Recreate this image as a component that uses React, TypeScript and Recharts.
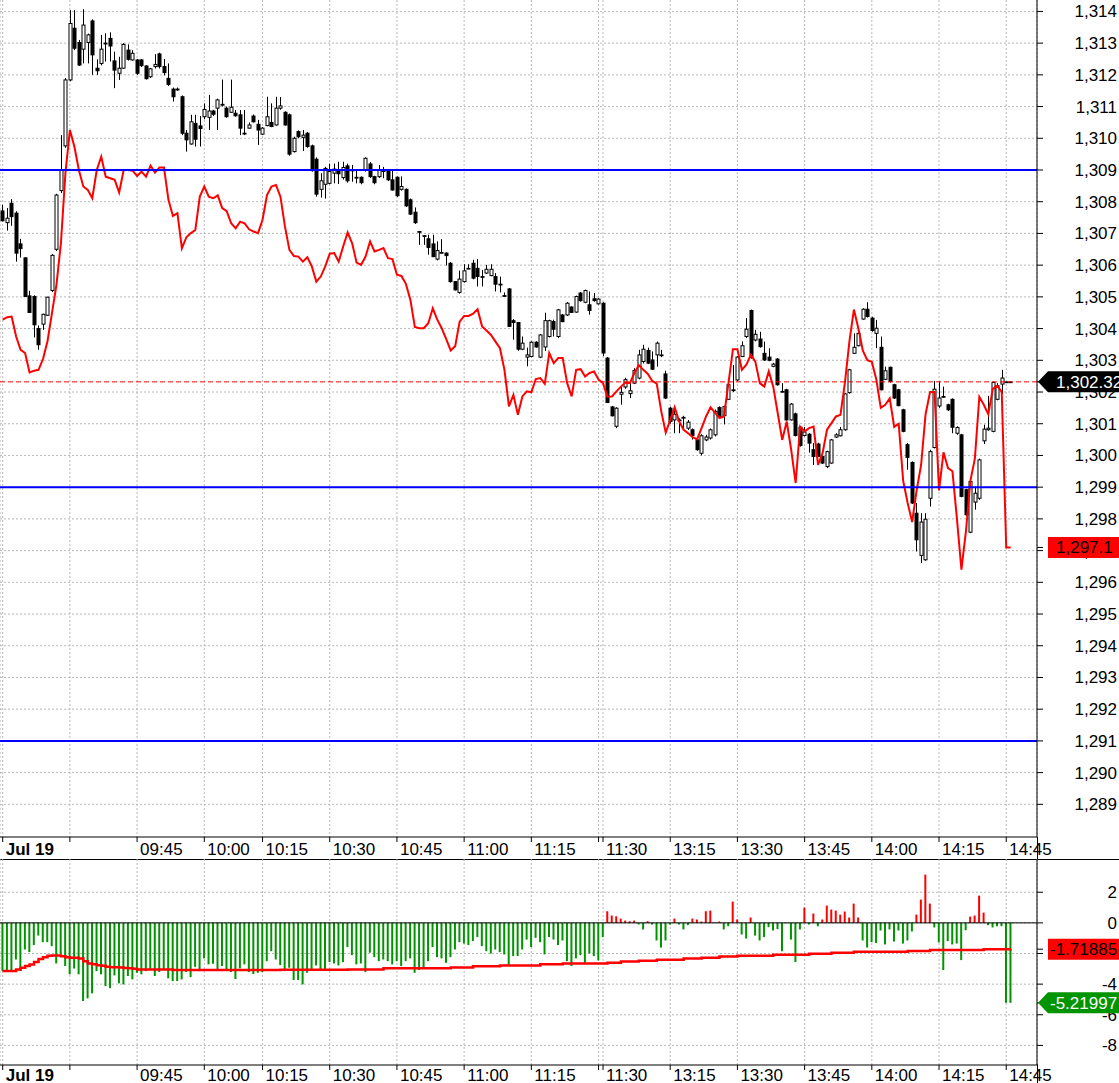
import React from 'react';
import {
  ComposedChart,
  Bar,
  Line,
  Cell,
  XAxis,
  YAxis,
  CartesianGrid,
  ReferenceLine,
} from 'recharts';

const FONT = 'Arial, "Liberation Sans", Helvetica, sans-serif';

// one-minute bars, index 0 = first bar of the session
const opens = [
  1307.71, 1307.34, 1307.95, 1307.64, 1306.67, 1306.23, 1305.03, 1305.01, 1304.0, 1304.14,
  1304.42, 1305.2, 1306.5, 1308.35, 1309.76, 1311.84, 1313.47, 1313.02, 1312.81, 1313.02,
  1313.7, 1312.21, 1312.36, 1313.0, 1313.15, 1312.44, 1312.05, 1312.21, 1312.78, 1312.47,
  1312.47, 1312.47, 1312.28, 1311.94, 1312.26, 1312.66, 1312.26, 1311.89, 1311.55, 1311.55,
  1311.31, 1310.16, 1309.82, 1310.47, 1310.39, 1310.68, 1310.66, 1310.86, 1310.95, 1311.07,
  1310.95, 1310.82, 1310.79, 1310.74, 1310.16, 1310.32, 1310.7, 1310.44, 1310.13, 1310.4,
  1310.5, 1310.42, 1310.95, 1310.82, 1310.74, 1309.58, 1310.21, 1310.03, 1310.16, 1309.76,
  1309.34, 1308.39, 1308.55, 1308.58, 1308.9, 1308.95, 1308.76, 1309.13, 1309.0, 1308.77,
  1308.77, 1309.0, 1309.19, 1308.79, 1308.79, 1308.98, 1308.98, 1308.69, 1308.77, 1308.39,
  1308.39, 1308.06, 1307.67, 1307.06, 1306.93, 1306.83, 1306.67, 1306.19, 1306.4, 1306.38,
  1306.06, 1305.48, 1305.14, 1305.48, 1305.9, 1306.06, 1305.9, 1305.64, 1305.75, 1305.67,
  1305.64, 1305.4, 1305.04, 1305.25, 1304.25, 1304.19, 1303.35, 1303.1, 1303.12, 1303.57,
  1303.1, 1303.42, 1303.75, 1304.22, 1303.75, 1304.43, 1304.43, 1304.68, 1304.52, 1305.12,
  1304.83, 1304.75, 1304.94, 1304.78, 1304.8, 1303.07, 1301.53, 1300.92, 1301.93, 1302.16,
  1301.95, 1302.28, 1302.44, 1302.96, 1303.31, 1303.01, 1303.17, 1303.17, 1302.57, 1301.49,
  1301.12, 1301.12, 1301.2, 1300.86, 1300.81, 1300.49, 1300.07, 1300.49, 1300.55, 1300.65,
  1301.51, 1301.26, 1301.77, 1302.07, 1302.38, 1303.12, 1303.75, 1304.57, 1303.64, 1303.67,
  1303.22, 1303.1, 1302.81, 1303.04, 1302.02, 1302.07, 1301.12, 1301.31, 1300.89, 1300.63,
  1300.67, 1300.18, 1300.36, 1299.97, 1299.65, 1299.76, 1300.58, 1300.62, 1300.81, 1301.98,
  1303.22, 1303.46, 1304.3, 1304.61, 1304.33, 1303.85, 1303.41, 1302.4, 1302.78, 1302.23,
  1302.07, 1301.44, 1300.34, 1299.78, 1298.18, 1296.85, 1296.71, 1298.65, 1300.25, 1301.56,
  1301.86, 1301.6, 1301.77, 1300.7, 1300.65, 1298.92, 1297.58, 1298.53, 1298.65, 1300.46,
  1300.81, 1300.76, 1301.77, 1302.25, 1302.32, 1302.32,
];

const highs = [
  1307.9, 1307.8, 1308.08, 1307.7, 1306.83, 1306.25, 1305.19, 1305.05, 1304.1, 1304.47,
  1305.0, 1306.35, 1308.25, 1310.1, 1311.9, 1314.04, 1314.04, 1313.1, 1314.07, 1313.3,
  1313.75, 1312.49, 1313.26, 1313.31, 1313.34, 1312.73, 1312.57, 1313.0, 1312.96, 1312.78,
  1312.5, 1312.5, 1312.3, 1312.22, 1312.65, 1312.7, 1312.5, 1312.36, 1311.6, 1311.6,
  1311.35, 1310.26, 1310.74, 1310.74, 1310.7, 1311.1, 1311.37, 1310.9, 1311.25, 1311.85,
  1311.0, 1311.85, 1310.89, 1310.89, 1310.89, 1310.5, 1310.75, 1310.58, 1310.35, 1311.31,
  1311.1, 1311.31, 1311.3, 1310.85, 1310.78, 1310.05, 1310.25, 1310.26, 1310.2, 1309.8,
  1309.4, 1308.9, 1309.1, 1309.2, 1309.2, 1309.26, 1309.26, 1309.2, 1309.16, 1309.0,
  1308.8, 1309.4, 1309.25, 1308.82, 1309.16, 1309.1, 1309.0, 1309.0, 1308.8, 1308.8,
  1308.42, 1308.1, 1307.82, 1307.08, 1306.95, 1306.96, 1306.96, 1306.75, 1306.82, 1306.4,
  1306.1, 1305.5, 1305.83, 1306.03, 1306.03, 1306.17, 1306.19, 1305.85, 1306.01, 1306.03,
  1305.75, 1305.64, 1305.14, 1305.28, 1304.3, 1304.2, 1303.75, 1303.4, 1303.6, 1303.6,
  1303.83, 1304.5, 1304.28, 1304.28, 1304.62, 1304.46, 1304.84, 1304.7, 1305.04, 1305.15,
  1305.23, 1305.17, 1305.12, 1304.96, 1304.83, 1303.1, 1301.56, 1301.52, 1302.17, 1302.45,
  1302.3, 1302.75, 1303.33, 1303.49, 1303.4, 1303.28, 1303.59, 1303.33, 1302.67, 1301.54,
  1301.44, 1301.17, 1301.25, 1301.12, 1300.85, 1300.52, 1300.67, 1300.65, 1300.85, 1301.45,
  1301.55, 1301.57, 1302.27, 1302.85, 1303.13, 1303.6, 1304.33, 1304.6, 1303.96, 1303.9,
  1303.59, 1303.38, 1302.92, 1303.07, 1302.28, 1302.1, 1301.65, 1301.35, 1300.92, 1300.9,
  1300.7, 1300.39, 1300.4, 1300.0, 1300.15, 1300.52, 1300.7, 1300.9, 1301.97, 1302.73,
  1303.85, 1303.88, 1304.64, 1304.83, 1304.37, 1304.27, 1303.75, 1302.8, 1302.8, 1302.26,
  1302.1, 1301.47, 1300.39, 1299.81, 1298.5, 1298.18, 1298.18, 1300.18, 1302.35, 1302.33,
  1302.17, 1301.63, 1301.8, 1300.92, 1300.68, 1298.95, 1299.21, 1299.02, 1299.9, 1300.97,
  1301.88, 1302.33, 1302.28, 1302.7, 1302.33, 1302.33,
];

const lows = [
  1307.38, 1307.09, 1307.24, 1306.11, 1306.24, 1305.0, 1304.5, 1303.72, 1303.33, 1303.96,
  1304.4, 1305.15, 1306.45, 1308.27, 1309.7, 1311.8, 1312.78, 1312.28, 1312.36, 1312.36,
  1312.0, 1312.0, 1312.3, 1312.42, 1312.42, 1311.58, 1311.84, 1312.2, 1312.45, 1312.45,
  1312.0, 1312.25, 1311.85, 1311.9, 1312.2, 1312.2, 1311.98, 1311.65, 1311.16, 1311.5,
  1310.1, 1309.58, 1309.8, 1309.74, 1309.74, 1310.6, 1310.26, 1310.7, 1310.26, 1311.0,
  1310.65, 1310.8, 1310.68, 1310.1, 1310.1, 1310.3, 1310.5, 1309.79, 1310.1, 1310.38,
  1310.35, 1310.4, 1310.9, 1310.4, 1309.45, 1309.55, 1310.0, 1309.6, 1309.7, 1308.95,
  1308.16, 1308.13, 1308.1, 1308.55, 1308.58, 1308.56, 1308.7, 1308.6, 1308.63, 1308.58,
  1308.55, 1308.95, 1308.75, 1308.55, 1308.75, 1308.74, 1308.65, 1308.35, 1308.15, 1308.35,
  1307.83, 1307.58, 1307.3, 1306.64, 1306.64, 1306.33, 1306.25, 1306.15, 1306.38, 1305.99,
  1305.45, 1305.2, 1305.1, 1305.45, 1305.88, 1305.55, 1305.33, 1305.33, 1305.72, 1305.65,
  1305.17, 1305.14, 1305.0, 1304.05, 1303.65, 1303.3, 1303.32, 1302.81, 1303.1, 1303.4,
  1303.07, 1303.3, 1303.72, 1303.75, 1303.7, 1304.2, 1304.4, 1304.49, 1304.5, 1304.85,
  1304.8, 1304.44, 1304.85, 1304.76, 1303.13, 1301.65, 1301.23, 1300.86, 1301.6, 1302.1,
  1301.81, 1302.25, 1302.4, 1302.9, 1302.88, 1302.7, 1302.8, 1303.1, 1301.78, 1301.0,
  1300.7, 1300.7, 1300.8, 1300.8, 1300.5, 1300.15, 1300.0, 1300.45, 1300.5, 1300.6,
  1301.2, 1300.98, 1301.75, 1302.0, 1302.35, 1303.1, 1303.7, 1303.05, 1303.6, 1303.4,
  1302.98, 1302.97, 1302.78, 1302.2, 1301.98, 1301.1, 1301.1, 1300.6, 1300.28, 1300.6,
  1300.09, 1299.7, 1299.95, 1299.73, 1299.6, 1299.74, 1300.55, 1300.6, 1300.78, 1301.95,
  1303.2, 1303.44, 1304.28, 1304.35, 1303.9, 1303.38, 1302.05, 1302.38, 1302.3, 1301.78,
  1301.55, 1300.73, 1299.55, 1298.47, 1296.97, 1296.61, 1296.68, 1298.39, 1300.22, 1301.5,
  1301.82, 1301.4, 1300.7, 1300.65, 1298.68, 1298.1, 1297.55, 1298.29, 1298.6, 1300.36,
  1300.78, 1300.73, 1301.74, 1301.94, 1302.31, 1302.31,
];

const closes = [
  1307.4, 1307.48, 1307.53, 1306.38, 1306.52, 1305.01, 1304.51, 1304.12, 1303.49, 1304.45,
  1304.99, 1306.31, 1308.21, 1309.0, 1311.84, 1313.62, 1312.84, 1312.31, 1313.57, 1313.26,
  1312.63, 1312.13, 1312.81, 1313.0, 1312.91, 1312.15, 1312.21, 1312.96, 1312.49, 1312.68,
  1312.05, 1312.29, 1311.88, 1312.19, 1312.33, 1312.26, 1312.07, 1311.7, 1311.31, 1311.55,
  1310.16, 1309.95, 1310.52, 1309.97, 1310.31, 1310.91, 1310.86, 1310.76, 1311.21, 1311.07,
  1310.68, 1310.98, 1310.71, 1310.32, 1310.16, 1310.42, 1310.52, 1310.26, 1310.32, 1310.68,
  1310.37, 1310.95, 1311.02, 1310.42, 1309.5, 1310.0, 1310.05, 1310.1, 1309.74, 1308.98,
  1308.24, 1308.66, 1309.05, 1308.95, 1309.03, 1308.88, 1309.08, 1308.66, 1309.0, 1308.77,
  1308.6, 1309.37, 1308.79, 1308.6, 1309.0, 1308.98, 1308.69, 1308.37, 1308.19, 1308.48,
  1307.87, 1307.61, 1307.34, 1307.06, 1306.93, 1306.56, 1306.27, 1306.46, 1306.4, 1306.3,
  1305.48, 1305.22, 1305.56, 1305.82, 1305.9, 1305.59, 1305.64, 1305.64, 1305.87, 1305.87,
  1305.4, 1305.4, 1305.04, 1304.07, 1304.19, 1303.35, 1303.54, 1303.17, 1303.57, 1303.42,
  1303.8, 1304.25, 1304.25, 1303.98, 1304.59, 1304.22, 1304.8, 1304.51, 1305.01, 1304.88,
  1305.2, 1304.57, 1304.88, 1304.93, 1303.23, 1301.67, 1301.25, 1301.49, 1301.99, 1302.39,
  1302.04, 1302.68, 1303.17, 1303.35, 1302.91, 1302.72, 1303.54, 1303.17, 1301.81, 1301.07,
  1301.3, 1301.12, 1301.2, 1301.05, 1300.63, 1300.18, 1300.62, 1300.58, 1300.81, 1301.39,
  1301.23, 1301.54, 1302.23, 1302.07, 1303.1, 1303.46, 1303.98, 1303.1, 1303.82, 1303.43,
  1303.01, 1303.0, 1302.88, 1302.23, 1302.02, 1301.12, 1301.62, 1300.63, 1300.31, 1300.74,
  1300.39, 1299.97, 1299.97, 1299.76, 1300.12, 1300.49, 1300.65, 1300.81, 1301.94, 1302.7,
  1303.41, 1303.85, 1304.61, 1304.38, 1303.94, 1304.01, 1302.07, 1302.67, 1302.33, 1301.81,
  1301.57, 1300.76, 1299.94, 1298.5, 1297.34, 1297.9, 1297.99, 1300.12, 1302.09, 1301.81,
  1301.86, 1301.44, 1300.89, 1300.88, 1298.71, 1298.13, 1299.18, 1298.81, 1299.86, 1300.83,
  1300.86, 1302.3, 1302.2, 1302.44, 1302.32, 1302.32,
];

// red comparison line in the price panel
const refLine = [
  1304.28, 1304.36, 1304.38, 1303.75, 1303.33, 1303.23, 1302.62, 1302.67, 1302.7, 1303.04,
  1303.6, 1304.49, 1305.38, 1306.7, 1308.9, 1310.26, 1309.74, 1309.0, 1308.48, 1308.37,
  1308.11, 1309.0, 1309.42, 1308.79, 1308.74, 1308.69, 1308.29, 1309.0, 1309.0, 1308.98,
  1308.81, 1308.95, 1308.79, 1309.14, 1308.92, 1309.08, 1309.08, 1308.06, 1307.55, 1307.64,
  1306.53, 1306.88, 1307.01, 1307.11, 1308.16, 1308.48, 1308.16, 1308.11, 1308.2, 1307.8,
  1307.7, 1307.32, 1307.16, 1307.37, 1307.32, 1307.13, 1307.06, 1307.01, 1307.43, 1308.21,
  1308.48, 1308.53, 1308.16, 1307.22, 1306.48, 1306.29, 1306.27, 1306.11, 1306.25, 1305.96,
  1305.48, 1305.64, 1305.96, 1306.36, 1306.38, 1306.11, 1306.59, 1307.03, 1306.69, 1306.08,
  1306.01, 1306.27, 1306.75, 1306.43, 1306.48, 1306.54, 1306.22, 1306.19, 1305.7, 1305.66,
  1305.41, 1304.91, 1304.05, 1304.01, 1304.01, 1304.17, 1304.64, 1304.28, 1304.01, 1303.67,
  1303.31, 1303.44, 1304.22, 1304.4, 1304.4, 1304.47, 1304.61, 1304.07, 1303.94, 1303.8,
  1303.59, 1303.38, 1302.7, 1301.55, 1301.91, 1301.28, 1301.86, 1302.02, 1301.99, 1302.41,
  1302.44, 1302.26, 1303.23, 1302.91, 1303.07, 1303.07, 1302.28, 1301.86, 1302.7, 1302.72,
  1302.49, 1302.6, 1302.65, 1302.39, 1302.28, 1301.85, 1301.86, 1302.02, 1302.17, 1302.3,
  1302.28, 1302.6, 1302.85, 1302.7, 1302.57, 1302.35, 1302.26, 1301.39, 1300.72, 1301.12,
  1301.52, 1301.07, 1300.81, 1300.7, 1300.58, 1300.51, 1300.86, 1301.23, 1301.52, 1301.35,
  1301.18, 1301.23, 1302.28, 1303.35, 1303.35, 1302.7, 1302.86, 1303.17, 1302.96, 1302.28,
  1302.17, 1302.65, 1302.17, 1301.33, 1300.49, 1301.07, 1300.18, 1299.13, 1300.91, 1300.76,
  1300.86, 1300.91, 1299.7, 1300.07, 1300.81, 1301.02, 1301.23, 1301.28, 1302.3, 1303.6,
  1304.6, 1304.0, 1303.3, 1303.0, 1302.95, 1302.4, 1301.5, 1301.6, 1301.8, 1300.9,
  1301.0, 1299.2, 1298.5, 1297.9, 1298.9, 1299.7, 1301.3, 1302.0, 1302.0, 1298.9,
  1300.1, 1299.6, 1299.5, 1298.0, 1296.4, 1297.6, 1299.2, 1299.9, 1301.85, 1301.6,
  1301.3, 1302.1, 1302.2, 1302.0, 1297.1, 1297.1,
];

// lower panel: histogram and its red average
const hist = [
  -3.15, -3.08, -3.15, -2.39, -3.15, -1.74, -1.91, -1.45, -0.83, -1.26,
  -1.26, -1.52, -2.65, -2.06, -2.82, -3.36, -2.98, -3.36, -5.1, -4.93,
  -4.6, -3.15, -3.36, -4.13, -4.26, -3.43, -3.95, -4.02, -3.47, -3.69,
  -3.26, -3.36, -3.15, -3.0, -3.47, -3.21, -3.04, -3.62, -3.8, -3.8,
  -3.69, -3.21, -3.54, -2.87, -3.15, -2.32, -2.71, -2.67, -3.04, -2.82,
  -3.04, -3.21, -3.67, -2.97, -2.71, -3.21, -3.34, -3.26, -3.21, -2.5,
  -1.85, -2.39, -2.76, -3.15, -2.93, -3.73, -3.73, -4.02, -3.26, -3.04,
  -2.78, -3.04, -3.08, -2.56, -2.65, -2.78, -2.56, -1.58, -2.11, -2.71,
  -2.65, -3.21, -1.95, -2.24, -2.5, -2.39, -2.5, -2.71, -2.5, -2.82,
  -2.5, -2.32, -3.26, -3.08, -2.97, -2.5, -1.58, -2.24, -2.32, -2.61,
  -2.24, -1.74, -1.26, -1.35, -1.45, -1.19, -0.93, -1.52, -1.85, -2.0,
  -1.74, -1.91, -2.06, -2.76, -2.17, -2.17, -1.74, -1.09, -1.58, -0.98,
  -1.26, -2.06, -0.93, -1.09, -1.45, -1.15, -2.5, -2.82, -2.32, -2.11,
  -2.67, -2.0, -2.17, -2.45, -0.93, 0.76, 0.48, 0.43, 0.28, 0.15,
  0.11, 0.15, -0.11, -0.43, 0.11, -0.11, -1.15, -1.61, -1.15, -0.11,
  0.28, -0.11, -0.43, -0.15, 0.28, 0.22, 0.09, 0.76, 0.8, 0.03,
  0.09, -0.43, -0.22, 1.39, 0.22, -0.76, -1.02, 0.35, -0.83, -1.15,
  -0.93, -0.28, -0.5, -0.41, -1.85, -0.02, -1.09, -2.56, -0.43, 1.0,
  -0.11, 0.61, -0.22, 0.22, 1.13, 0.87, 0.8, 0.54, 0.74, 0.35,
  1.26, 0.35, -1.15, -1.61, -1.26, -1.32, -0.5, -1.41, -0.43, -1.22,
  -0.5, -1.35, -1.15, -0.56, 0.54, 1.52, 3.15, 1.26, -0.3, -1.28,
  -3.08, -1.19, -1.41, -1.35, -2.43, -0.48, 0.41, 0.48, 1.78, 0.67,
  -0.15, -0.3, -0.22, -0.22, -5.22, -5.21997,
];

const histAvg = [
  -3.15, -3.15, -3.15, -3.04, -2.93, -2.82, -2.72, -2.56, -2.36, -2.25,
  -2.15, -2.13, -2.13, -2.18, -2.25, -2.28, -2.28, -2.32, -2.5, -2.65,
  -2.71, -2.76, -2.8, -2.86, -2.89, -2.89, -2.92, -2.94, -2.97, -3.0,
  -3.04, -3.04, -3.04, -3.04, -3.04, -3.04, -3.04, -3.04, -3.08, -3.08,
  -3.08, -3.08, -3.08, -3.08, -3.08, -3.08, -3.08, -3.08, -3.08, -3.08,
  -3.08, -3.08, -3.08, -3.08, -3.08, -3.08, -3.08, -3.08, -3.08, -3.08,
  -3.08, -3.08, -3.06, -3.06, -3.06, -3.06, -3.06, -3.06, -3.06, -3.06,
  -3.06, -3.06, -3.06, -3.06, -3.06, -3.06, -3.06, -3.04, -3.04, -3.04,
  -3.04, -3.04, -3.04, -3.04, -3.04, -2.97, -2.97, -2.97, -2.97, -2.97,
  -2.97, -2.97, -2.97, -2.97, -2.97, -2.97, -2.97, -2.97, -2.97, -2.97,
  -2.91, -2.91, -2.91, -2.91, -2.91, -2.84, -2.84, -2.84, -2.84, -2.84,
  -2.84, -2.78, -2.78, -2.78, -2.78, -2.78, -2.78, -2.78, -2.78, -2.78,
  -2.71, -2.71, -2.71, -2.71, -2.71, -2.65, -2.65, -2.65, -2.65, -2.65,
  -2.65, -2.65, -2.65, -2.65, -2.65, -2.6, -2.6, -2.6, -2.53, -2.53,
  -2.53, -2.53, -2.47, -2.47, -2.47, -2.47, -2.4, -2.4, -2.4, -2.4,
  -2.4, -2.4, -2.32, -2.32, -2.32, -2.32, -2.27, -2.27, -2.27, -2.27,
  -2.2, -2.2, -2.2, -2.2, -2.14, -2.14, -2.14, -2.14, -2.14, -2.14,
  -2.14, -2.14, -2.08, -2.08, -2.08, -2.08, -2.08, -2.08, -2.08, -2.08,
  -2.01, -2.01, -2.01, -2.01, -2.01, -1.95, -1.95, -1.95, -1.95, -1.95,
  -1.89, -1.89, -1.89, -1.89, -1.89, -1.89, -1.89, -1.89, -1.89, -1.89,
  -1.89, -1.89, -1.83, -1.83, -1.83, -1.83, -1.83, -1.77, -1.77, -1.77,
  -1.77, -1.77, -1.77, -1.77, -1.77, -1.77, -1.77, -1.77, -1.77, -1.72,
  -1.72, -1.72, -1.72, -1.72, -1.72, -1.71885,
];

// time axis: bar index of each grid line and its label
const gridIdx = [0, 15, 30, 45, 58, 73, 88, 103, 118, 133, 134, 149, 164, 179, 194, 209, 224];
const gridLabels = [
  'Jul 19', '', '09:45', '10:00', '10:15', '10:30', '10:45', '11:00', '11:15', '',
  '11:30', '13:15', '13:30', '13:45', '14:00', '14:15', '14:45',
];

const priceTicks = [
  1289, 1290, 1291, 1292, 1293, 1294, 1295, 1296, 1297, 1298, 1299, 1300, 1301,
  1302, 1303, 1304, 1305, 1306, 1307, 1308, 1309, 1310, 1311, 1312, 1313, 1314,
];
const levelLines = [1309, 1299, 1291];
const histTicks = [2, 0, -2, -4, -6, -8];

const rows = closes.map((c, i) => ({
  i,
  o: opens[i],
  h: highs[i],
  l: lows[i],
  c,
  r: refLine[i],
}));
const lowerRows = hist.map((v, i) => ({ i, v, a: histAvg[i] }));

const lastClose = closes[closes.length - 1];
const lastRef = refLine[refLine.length - 1];
const lastHist = hist[hist.length - 1];
const lastAvg = histAvg[histAvg.length - 1];

const X_DOMAIN: [number, number] = [-0.6, 230.87];
const PRICE_DOMAIN: [number, number] = [1287.97, 1314.36];
const HIST_DOMAIN: [number, number] = [-9.28, 4.17];

const fmtPrice = (v: number) => v.toLocaleString('en-US', { maximumFractionDigits: 2 });

type Tag = { text: string; fill: string; color: string; arrow: boolean; dx: number };

// last-value markers; their ticks come last so they paint over the plain labels
const mainTags = new Map<number, Tag>([
  [lastRef, { text: fmtPrice(lastRef), fill: '#ff0000', color: '#000', arrow: false, dx: 11 }],
  [lastClose, { text: fmtPrice(lastClose), fill: '#000', color: '#fff', arrow: true, dx: 11 }],
]);
const lowerTags = new Map<number, Tag>([
  [lastAvg, { text: String(lastAvg), fill: '#ff0000', color: '#000', arrow: false, dx: 5 }],
  [lastHist, { text: String(lastHist), fill: '#009400', color: '#fff', arrow: true, dx: 5 }],
]);

function Candle(props: any) {
  const { x, y, width, height, payload } = props;
  if (x == null || payload == null) return null;
  const { o, h, l, c } = payload;
  const cx = Math.round(x + width / 2) + 0.5;
  const k = h - l > 0 ? height / (h - l) : 0;
  const yOf = (v: number) => y + (h - v) * k;
  const top = yOf(Math.max(o, c));
  const bot = yOf(Math.min(o, c));
  const up = c >= o;
  return (
    <g>
      <line x1={cx} x2={cx} y1={y} y2={y + height} stroke="#000" strokeWidth={1} />
      <rect
        x={cx - 1.5}
        y={top}
        width={3}
        height={Math.max(bot - top, 0.8)}
        fill={up ? '#fff' : '#000'}
        stroke="#000"
        strokeWidth={1}
      />
    </g>
  );
}

function makeTimeTick(dy: number) {
  return ({ x, y, payload }: any) => {
    const k = gridIdx.indexOf(payload.value);
    const label = k >= 0 ? gridLabels[k] : '';
    if (!label) return null;
    return (
      <text
        x={x + 3}
        y={y + dy}
        fontSize={17}
        fontFamily={FONT}
        fontWeight={k === 0 ? 700 : 400}
        fill="#000"
        textAnchor="start"
      >
        {label}
      </text>
    );
  };
}
const MainTimeTick = makeTimeTick(11);
const LowerTimeTick = makeTimeTick(9);

// y tick: plain label, or a coloured price tag for the last values
function makeValueTick(tags: Map<number, Tag>, fmt: (v: number) => string) {
  return ({ x, y, payload }: any) => {
    const t = tags.get(payload.value);
    if (t) {
      const ax = x - 8; // axis line
      const hh = 10.5;
      const pts = t.arrow
        ? `${ax + 1},${y} ${ax + 11},${y - hh} ${ax + 90},${y - hh} ${ax + 90},${y + hh} ${ax + 11},${y + hh}`
        : `${ax + 11},${y - hh} ${ax + 90},${y - hh} ${ax + 90},${y + hh} ${ax + 11},${y + hh}`;
      return (
        <g>
          <polygon points={pts} fill={t.fill} />
          <text x={x + t.dx} y={y} dy={6} fontSize={17} fontFamily={FONT} fill={t.color} textAnchor="start">
            {t.text}
          </text>
        </g>
      );
    }
    return (
      <text x={x + 72} y={y} dy={6} fontSize={17} fontFamily={FONT} fill="#000" textAnchor="end">
        {fmt(payload.value)}
      </text>
    );
  };
}
const PriceTick = makeValueTick(mainTags, fmtPrice);
const HistTick = makeValueTick(lowerTags, (v) => String(v));

export default function App() {
  return (
    <div
      style={{
        position: 'absolute',
        left: 0,
        top: 0,
        width: 1119,
        height: 1083,
        background: '#fff',
        overflow: 'hidden',
      }}
    >
      <div style={{ position: 'absolute', left: 0, top: 0 }}>
        <ComposedChart width={1119} height={860} data={rows} margin={{ top: 0, right: 0, bottom: 0, left: 0 }}>
          <CartesianGrid stroke="#b8b8b8" strokeDasharray="2 2" horizontalValues={priceTicks} />
          <XAxis
            dataKey="i"
            type="number"
            domain={X_DOMAIN}
            allowDataOverflow
            ticks={gridIdx}
            interval={0}
            height={23}
            tickSize={5}
            tick={MainTimeTick}
            stroke="#000"
          />
          <YAxis
            orientation="right"
            type="number"
            domain={PRICE_DOMAIN}
            allowDataOverflow
            ticks={[...priceTicks, lastRef, lastClose]}
            interval={0}
            width={82}
            tickSize={6}
            tickMargin={2}
            tick={PriceTick}
            stroke="#000"
          />
          <Bar dataKey={(d: any) => [d.l, d.h]} barSize={4} shape={Candle} isAnimationActive={false} />
          <Line
            type="linear"
            dataKey="r"
            stroke="#ff0000"
            strokeWidth={2}
            dot={false}
            activeDot={false}
            isAnimationActive={false}
          />
          {levelLines.map((v) => (
            <ReferenceLine key={v} y={v} stroke="#0000ff" strokeWidth={2} />
          ))}
          <ReferenceLine y={lastClose} stroke="#ff0000" strokeDasharray="5 3" />
        </ComposedChart>
      </div>

      <div style={{ position: 'absolute', left: 0, top: 859, width: 1119, height: 1, background: '#000' }} />
      <div style={{ position: 'absolute', left: 1037, top: 837, width: 1, height: 23, background: '#000' }} />
      <div style={{ position: 'absolute', left: 1037, top: 1064, width: 1, height: 19, background: '#000' }} />

      <div style={{ position: 'absolute', left: 0, top: 859 }}>
        <ComposedChart width={1119} height={224} data={lowerRows} margin={{ top: 0, right: 0, bottom: 0, left: 0 }}>
          <CartesianGrid stroke="#b8b8b8" strokeDasharray="2 2" horizontalValues={histTicks} />
          <XAxis
            dataKey="i"
            type="number"
            domain={X_DOMAIN}
            allowDataOverflow
            ticks={gridIdx}
            interval={0}
            height={18}
            tickSize={5}
            tick={LowerTimeTick}
            stroke="#000"
          />
          <YAxis
            orientation="right"
            type="number"
            domain={HIST_DOMAIN}
            allowDataOverflow
            ticks={[...histTicks, lastAvg, lastHist]}
            interval={0}
            width={82}
            tickSize={6}
            tickMargin={2}
            tick={HistTick}
            stroke="#000"
          />
          <ReferenceLine y={0} stroke="#000" strokeWidth={1} />
          <Bar dataKey="v" barSize={2} isAnimationActive={false}>
            {lowerRows.map((d) => (
              <Cell key={d.i} fill={d.v >= 0 ? '#ff0000' : '#009400'} />
            ))}
          </Bar>
          <Line
            type="stepAfter"
            dataKey="a"
            stroke="#ff0000"
            strokeWidth={2.5}
            dot={false}
            activeDot={false}
            isAnimationActive={false}
          />
        </ComposedChart>
      </div>
    </div>
  );
}
